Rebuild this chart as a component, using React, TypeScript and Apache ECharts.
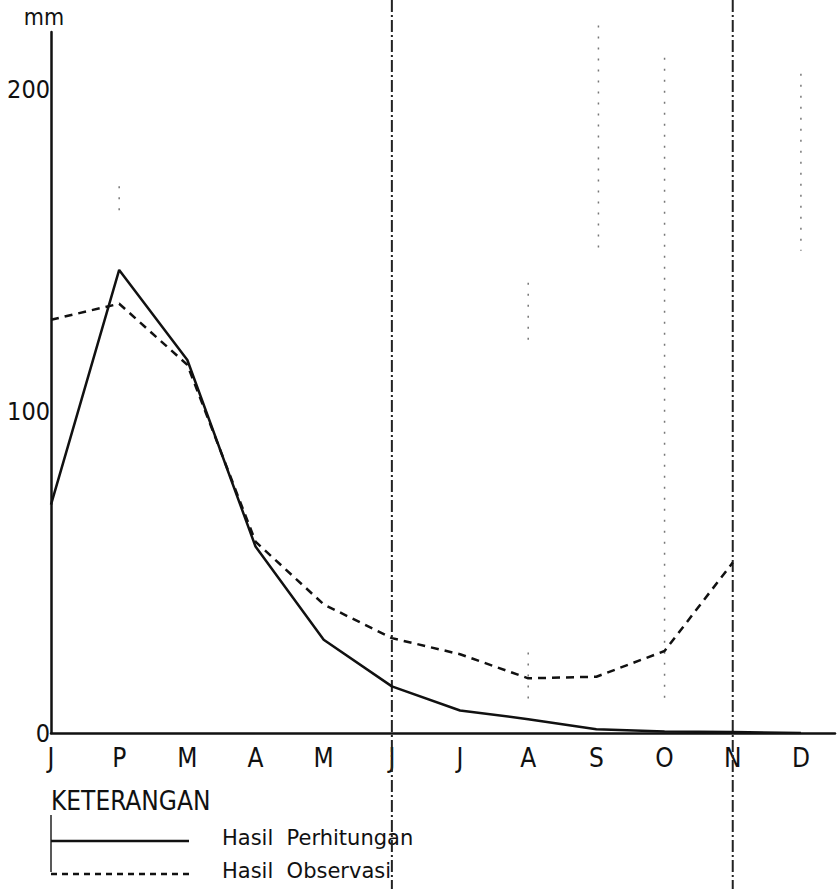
import React, { useEffect, useRef } from "react";
import * as echarts from "echarts";

const months = ["J", "P", "M", "A", "M", "J", "J", "A", "S", "O", "N", "D"];
const perhitungan = [71, 144, 116, 58, 29, 14.5, 7, 4.3, 1.2, 0.5, 0.3, 0];
const observasi = [128.5, 133.5, 114.5, 59.5, 40, 29.5, 24.5, 17, 17.5, 25.5, 53, null];
const seriesNames = ["Hasil  Perhitungan", "Hasil  Observasi"];
const yTicks = [0, 100, 200];
const guideMonths = [5, 10];
// faint dotted scan marks: [month position, from value, to value]
const dottedMarks: [number, number, number][] = [
  [9, 210, 10],
  [7, 140, 120],
  [7, 25, 8],
  [8.03, 220, 150],
  [11, 205, 150],
  [1, 170, 160],
];

const FONT = "'DejaVu Sans Condensed', 'DejaVu Sans', sans-serif";
const FONT_WIDE = "'DejaVu Sans', sans-serif";

export default function App() {
  const ref = useRef<HTMLDivElement>(null);
  useEffect(() => {
    const chart = echarts.init(ref.current!, null, { renderer: "svg" });
    const toPairs = (arr: (number | null)[]) =>
      arr.map((v, i) => (v === null ? null : [i, v])).filter((p) => p !== null);
    const option: any = {
      animation: false,
      backgroundColor: "#ffffff",
      grid: { left: 51, right: 4, top: 32, bottom: 156 },
      xAxis: {
        type: "value",
        min: 0,
        max: 11.5,
        interval: 1,
        splitLine: { show: false },
        axisTick: { show: false },
        axisLine: { show: true, onZero: false, lineStyle: { color: "#111", width: 2.5 } },
        axisLabel: {
          color: "#111",
          fontFamily: FONT,
          fontSize: 26,
          margin: 12,
          showMaxLabel: false,
          formatter: (v: number) => (Number.isInteger(v) && months[v] ? months[v] : ""),
        },
      },
      yAxis: {
        type: "value",
        min: 0,
        max: 218,
        interval: 100,
        name: "mm",
        nameLocation: "end",
        nameGap: 4,
        nameTextStyle: { color: "#111", fontFamily: FONT, fontSize: 23, padding: [0, 14, 0, 0] },
        splitLine: { show: false },
        axisTick: { show: false },
        axisLine: { show: true, lineStyle: { color: "#111", width: 2.5 } },
        axisLabel: {
          color: "#111",
          fontFamily: FONT,
          fontSize: 25,
          margin: 1,
          showMaxLabel: false,
          formatter: (v: number) => (yTicks.includes(v) ? String(v) : ""),
        },
      },
      series: [
        {
          name: seriesNames[0],
          type: "line",
          data: toPairs(perhitungan),
          symbol: "none",
          lineStyle: { color: "#111", width: 2.5, type: "solid" },
          z: 3,
        },
        {
          name: seriesNames[1],
          type: "line",
          data: toPairs(observasi),
          symbol: "none",
          lineStyle: { color: "#111", width: 2.5, type: [8, 6] },
          z: 3,
        },
      ],
    };
    chart.setOption(option);

    const px = (v: number) => chart.convertToPixel({ xAxisIndex: 0 }, v) as number;
    const py = (v: number) => chart.convertToPixel({ yAxisIndex: 0 }, v) as number;
    const graphics: any[] = [];
    guideMonths.forEach((m) => {
      const x = px(m);
      graphics.push({
        type: "line",
        shape: { x1: x, y1: 0, x2: x, y2: 889 },
        style: { stroke: "#222", lineWidth: 2, lineDash: [12, 3, 2, 3] },
        silent: true,
        z: 1,
      });
    });
    dottedMarks.forEach(([m, a, b]) => {
      const x = px(m);
      graphics.push({
        type: "line",
        shape: { x1: x, y1: py(a), x2: x, y2: py(b) },
        style: { stroke: "#777", lineWidth: 1.5, lineDash: [2, 9] },
        silent: true,
        z: 0,
      });
    });
    const x0 = px(0);
    graphics.push({
      type: "text",
      x: x0,
      y: 788,
      style: { text: "KETERANGAN", fill: "#111", font: `26px ${FONT}` },
    });
    graphics.push({
      type: "line",
      shape: { x1: x0, y1: 815, x2: x0, y2: 872 },
      style: { stroke: "#222", lineWidth: 1.5 },
      silent: true,
    });
    const legendRows = [
      { y: 841, dash: null as number[] | null },
      { y: 874, dash: [6, 5] },
    ];
    legendRows.forEach((r, i) => {
      graphics.push({
        type: "line",
        shape: { x1: x0, y1: r.y, x2: x0 + 138, y2: r.y },
        style: { stroke: "#111", lineWidth: 2.5, lineDash: r.dash || undefined },
      });
      graphics.push({
        type: "text",
        x: 222,
        y: r.y - 3,
        style: {
          text: seriesNames[i],
          fill: "#111",
          font: `21px ${FONT_WIDE}`,
          verticalAlign: "middle",
        },
      });
    });
    chart.setOption({ graphic: graphics });

    return () => chart.dispose();
  }, []);
  return <div ref={ref} style={{ width: 839, height: 889, position: "absolute", left: 0, top: 0 }} />;
}
